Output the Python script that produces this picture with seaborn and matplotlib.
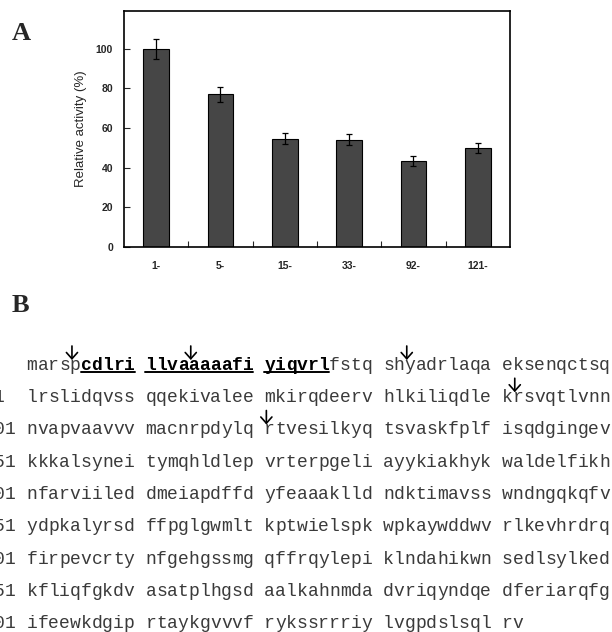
import matplotlib
matplotlib.use("Agg")
import matplotlib.pyplot as plt
import seaborn as sns
import pandas as pd
from matplotlib.patches import FancyArrowPatch
from matplotlib.lines import Line2D

# ---------------- data ----------------
constructs = ["1-", "5-", "15-", "33-", "92-", "121-"]
activity = [100, 77, 54.6, 54.1, 43.3, 49.9]
activity_err = [5.0, 3.8, 2.9, 2.8, 2.4, 2.6]
y_ticks = [0, 20, 40, 60, 80, 100]

line_numbers = [1, 51, 101, 151, 201, 251, 301, 351, 401]
sequence_rows = [
    "marspcdlri llvaaaaafi yiqvrlfstq shyadrlaqa eksenqctsq",
    "lrslidqvss qqekivalee mkirqdeerv hlkiliqdle krsvqtlvnn",
    "nvapvaavvv macnrpdylq rtvesilkyq tsvaskfplf isqdgingev",
    "kkkalsynei tymqhldlep vrterpgeli ayykiakhyk waldelfikh",
    "nfarviiled dmeiapdffd yfeaaaklld ndktimavss wndngqkqfv",
    "ydpkalyrsd ffpglgwmlt kptwielspk wpkaywddwv rlkevhrdrq",
    "firpevcrty nfgehgssmg qffrqylepi klndahikwn sedlsylked",
    "kfliqfgkdv asatplhgsd aalkahnmda dvriqyndqe dferiarqfg",
    "ifeewkdgip rtaykgvvvf rykssrrriy lvgpdslsql rv",
]
# bold + underlined stretches (row, first column, last column) in the row text
bold_runs = [(0, 5, 9), (0, 11, 20), (0, 22, 27)]
# arrows above residues: (row, column)
arrow_sites = [(0, 4), (0, 15), (0, 35), (1, 45), (2, 22)]

# ---------------- figure ----------------
W, H = 612, 632
fig = plt.figure(figsize=(W / 100, H / 100), dpi=100)
sns.set_style("ticks")
plt.rcParams["font.family"] = ["Liberation Sans", "DejaVu Sans"]


def fx(x):
    return x / W


def fy(y):
    return 1 - y / H


ax = fig.add_axes([fx(124), fy(247), (510 - 124) / W, (247 - 11) / H])
df = pd.DataFrame({"construct": constructs, "activity": activity})
sns.barplot(data=df, x="construct", y="activity", order=constructs,
            color="#464646", saturation=1, edgecolor="black", linewidth=0.8,
            width=0.4, errorbar=None, ax=ax)
ax.errorbar(range(len(constructs)), activity, yerr=activity_err, fmt="none",
            ecolor="black", elinewidth=0.9, capsize=2.5, capthick=0.9)

ax.set_xlim(-0.5, len(constructs) - 0.5)
ax.set_ylim(0, 119)
ax.set_yticks(y_ticks)
ax.set_xticks([i + 0.5 for i in range(len(constructs) - 1)], minor=True)
ax.tick_params(axis="x", which="major", length=0, pad=10, labelsize=7.5)
ax.tick_params(axis="x", which="minor", direction="in", length=4, width=0.8)
ax.tick_params(axis="y", direction="in", length=4, width=0.8, pad=8, labelsize=7.5)
for lab in ax.get_xticklabels() + ax.get_yticklabels():
    lab.set_fontweight("bold")
for sp in ax.spines.values():
    sp.set_visible(True)
    sp.set_linewidth(1.2)
    sp.set_color("black")
ax.set_xlabel("")
ax.set_ylabel("Relative activity (%)", fontsize=9.5, labelpad=6)

# panel letters
fig.text(fx(12), fy(40), "A", fontsize=19, fontweight="bold",
         family="Liberation Serif", va="baseline", ha="left")
fig.text(fx(12), fy(312), "B", fontsize=19, fontweight="bold",
         family="Liberation Serif", va="baseline", ha="left")

# ---------------- sequence panel ----------------
cw = 10.8                 # px per monospace column
seq_x0 = 26.6             # left edge of first residue column
num_x0 = seq_x0 - 4 * cw  # line numbers, left aligned (partly outside, as in the source)
baseline0 = 370
dy = 32.25
fs = cw / 0.6 * 72 / 100
plain_color = "#3a3a3a"

bold_cols = {}
for r, a, b in bold_runs:
    for c in range(a, b + 1):
        bold_cols[(r, c)] = True

for r, (num, row) in enumerate(zip(line_numbers, sequence_rows)):
    yb = baseline0 + r * dy
    for i, ch in enumerate(str(num)):
        fig.text(fx(num_x0 + i * cw), fy(yb), ch, family="Liberation Mono",
                 fontsize=fs, va="baseline", ha="left", color=plain_color)
    for c, ch in enumerate(row):
        if ch == " ":
            continue
        bold = bold_cols.get((r, c), False)
        fig.text(fx(seq_x0 + c * cw), fy(yb), ch, family="Liberation Mono",
                 fontsize=fs, va="baseline", ha="left",
                 fontweight="bold" if bold else "normal",
                 color="black" if bold else plain_color)

for r, a, b in bold_runs:
    yb = baseline0 + r * dy + 2
    fig.add_artist(Line2D([fx(seq_x0 + a * cw), fx(seq_x0 + (b + 1) * cw)],
                          [fy(yb), fy(yb)], transform=fig.transFigure,
                          color="black", lw=1.4))

for r, c in arrow_sites:
    yb = baseline0 + r * dy
    xa = seq_x0 + (c + 0.2) * cw
    fig.add_artist(FancyArrowPatch((fx(xa), fy(yb - 24)), (fx(xa), fy(yb - 10)),
                                   transform=fig.transFigure,
                                   arrowstyle="->,head_length=0.45,head_width=0.4",
                                   mutation_scale=10, lw=1.2, color="black",
                                   shrinkA=0, shrinkB=0))

fig.savefig("out.png", dpi=100)
